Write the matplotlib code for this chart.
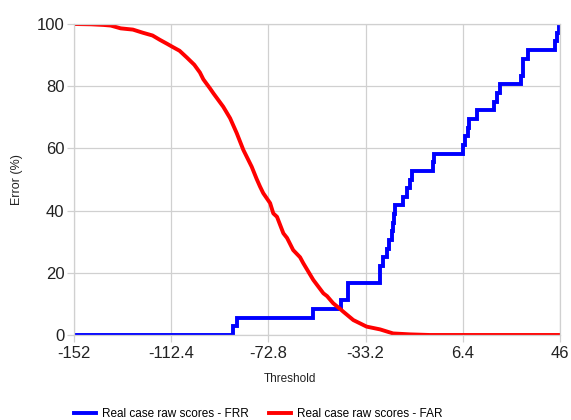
import matplotlib.pyplot as plt
import numpy as np

plt.rcParams['font.family'] = ['Liberation Sans', 'DejaVu Sans']

# FRR: step curve (threshold where the step starts, error %)
frr_x = [-152, -87.2, -85.6, -54.5, -43.4, -40.4, -27.2, -26.0, -24.6, -23.5,
         -22.5, -22.2, -21.8, -21.3, -17.8, -16.4, -15.1, -14.4, -5.9, -5.3,
         6.3, 7.3, 8.5, 8.9, 12.3, 19.1, 20.5, 21.6, 30.0, 30.8, 31.1, 33.1,
         44.0, 44.6, 45.7, 46]
frr_y = [0, 2.78, 5.56, 8.33, 11.11, 16.67, 22.22, 25.0, 27.78, 30.56,
         33.33, 36.11, 38.89, 41.67, 44.44, 47.22, 50.0, 52.78, 55.56, 58.33,
         61.11, 63.89, 66.67, 69.44, 72.22, 75.0, 77.78, 80.56, 83.33, 86.11, 88.89, 91.67,
         94.44, 97.22, 100, 100]

# FAR curve
far_x = [-152, -145, -140, -137, -133, -128, -124, -120, -117, -114, -112, -109,
         -106, -103, -100.7, -99.3, -96.6, -95.2, -91.2, -88.4, -85.7, -83, -79.6,
         -77.6, -76.2, -74.9, -72.1, -70.8, -69.3, -66.7, -65.2, -62.7, -59.9, -58.6,
         -54.5, -50.4, -48.9, -46.4, -43.6, -42.3, -38.2, -32.8, -27.3, -22, -15.1, -7, 46]
far_y = [100, 99.9, 99.7, 99.5, 98.6, 98.2, 97.2, 96.3, 94.9, 93.6, 92.7, 91.4,
         89.2, 86.9, 84.4, 82.2, 79.3, 77.7, 73.4, 69.7, 64.9, 59.5, 54.1,
         50.2, 47.7, 45.6, 42.4, 39.1, 38.0, 32.7, 31.2, 27.3, 25.0, 23.1,
         17.7, 13.4, 12.5, 10.2, 8.4, 7.5, 4.8, 2.7, 1.8, 0.5, 0.2, 0, 0]

x_ticks = [-152, -112.4, -72.8, -33.2, 6.4, 46]
x_labels = ['-152', '-112.4', '-72.8', '-33.2', '6.4', '46']
y_ticks = [0, 20, 40, 60, 80, 100]

fig = plt.figure(figsize=(5.71, 4.20), dpi=100)
ax = fig.add_axes([74 / 571, 1 - 335 / 420, (560 - 74) / 571, (335 - 24) / 420])

grid_col = '#d0d0d0'
ax.step(frr_x, frr_y, where='post', color='#0000ff', lw=2.8,
        label='Real case raw scores - FRR', solid_joinstyle='miter')
ax.plot(far_x, far_y, color='#ff0000', lw=2.8, label='Real case raw scores - FAR')

ax.set_xlim(-152, 46)
ax.set_ylim(0, 100)
ax.set_xticks(x_ticks)
ax.set_xticklabels(x_labels)
ax.set_yticks(y_ticks)
ax.grid(True, color=grid_col, lw=0.9)
ax.set_axisbelow(True)
for s in ax.spines.values():
    s.set_color(grid_col)
    s.set_linewidth(0.9)
ax.tick_params(axis='both', colors=grid_col, length=5, width=0.9, labelsize=12,
               labelcolor='#222222')
ax.tick_params(axis='x', pad=3)
ax.tick_params(axis='y', pad=2)

# y label: right edge of the rotated text sits at the given x
ax.set_ylabel('Error (%)', fontsize=9, color='#222222')
ax.yaxis.set_label_coords(23 / 571, 1 - 179.5 / 420, transform=fig.transFigure)
fig.text(290 / 571, 1 - 379 / 420, 'Threshold', fontsize=8.5, color='#222222',
         ha='center', va='center')

fig.legend(loc='center', bbox_to_anchor=(258 / 571, 1 - 414 / 420), ncol=2,
           frameon=False, fontsize=8.5, handlelength=1.9, handletextpad=0.5,
           columnspacing=1.7)

fig.savefig('out.png', dpi=100)
